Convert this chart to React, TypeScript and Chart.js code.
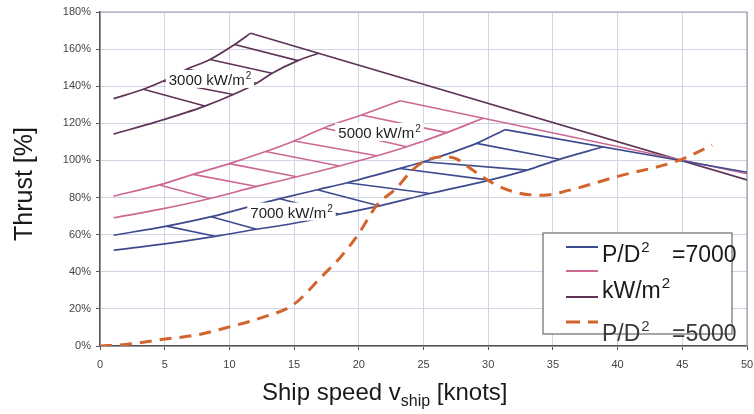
import React, { useEffect, useRef } from 'react';
import { Chart, registerables } from 'chart.js';

Chart.register(...registerables);

// ---- axis values ----
const xMin = 0;
const xMax = 50;
const xStep = 5;
const yMin = 0;
const yMax = 180;
const yStep = 20;

// ---- 3000 kW/m2 band (speed [knots], thrust [%]) ----
const band3000Upper: number[][] = [[1.05, 133.3], [3.35, 138.4], [4.9, 142.8], [6.7, 149.2], [8.5, 154.4], [10.4, 162.5], [11.65, 168.6]];
const band3000Lower: number[][] = [[1.05, 114.2], [4.4, 120.9], [8.1, 129.3], [10.3, 135.5], [12.1, 141.6], [13.3, 147.0], [15.3, 153.8], [16.9, 157.8]];
const band3000Top: number[][] = [[11.65, 168.6], [50, 89.5]];
const band3000Hatch: number[][] = [[3.35, 138.4, 8.1, 129.3], [4.9, 142.8, 10.3, 135.5], [6.7, 149.2, 12.1, 141.6], [8.5, 154.4, 13.3, 147.0], [10.4, 162.5, 15.3, 153.8]];

// ---- 5000 kW/m2 band ----
const band5000Upper: number[][] = [[1.05, 80.8], [4.6, 86.8], [7.2, 92.5], [10.0, 98.3], [12.8, 104.8], [15.0, 110.5], [17.3, 117.5], [20.2, 124.5], [23.2, 132.2]];
const band5000Lower: number[][] = [[1.05, 69.1], [4.6, 73.6], [8.5, 79.5], [12.1, 86.0], [15.2, 91.2], [18.5, 97.0], [21.4, 102.5], [23.7, 107.4], [26.8, 115.0], [29.6, 122.7]];
const band5000Top: number[][] = [[23.2, 132.2], [50, 92.8]];
const band5000Hatch: number[][] = [[4.6, 86.8, 8.5, 79.5], [7.2, 92.5, 12.1, 86.0], [10.0, 98.3, 15.2, 91.2], [12.8, 104.8, 18.5, 97.0], [15.0, 110.5, 21.4, 102.5], [17.3, 117.5, 23.7, 107.4], [20.2, 124.5, 26.8, 115.0]];

// ---- 7000 kW/m2 band ----
const band7000Upper: number[][] = [[1.05, 59.7], [5.15, 64.6], [8.6, 69.7], [12.9, 77.7], [13.9, 79.4], [16.8, 84.2], [19.1, 88.0], [23.2, 95.7], [25.0, 99.3], [29.1, 109.2], [31.3, 116.6]];
const band7000Lower: number[][] = [[1.05, 51.6], [5.0, 55.0], [8.9, 59.1], [12.1, 62.9], [14.9, 66.0], [18.5, 71.0], [21.6, 75.5], [25.5, 82.2], [30.1, 89.4], [33.0, 94.8], [35.5, 100.6], [38.9, 107.4]];
const band7000Top: number[][] = [[31.3, 116.6], [50, 93.6]];
const band7000Hatch: number[][] = [[5.15, 64.6, 8.9, 59.1], [8.6, 69.7, 12.1, 62.9], [13.9, 79.4, 18.5, 71.0], [16.8, 84.2, 21.6, 75.5], [19.1, 88.0, 25.5, 82.2], [23.2, 95.7, 30.1, 89.4], [25.0, 99.3, 33.0, 94.8], [29.1, 109.2, 35.5, 100.6]];

// ---- dashed thrust demand curve ----
const demandCurve: number[][] = [[0, 0], [2, 0.8], [4.9, 3.6], [7.5, 6.0], [10, 10.3], [12.5, 15.3], [14.95, 22.3], [17.1, 37.2], [18.6, 48], [20, 60.6], [21.4, 75.9], [22.9, 85], [24, 93.9], [25, 99.3], [26.5, 102], [27.5, 101], [28.8, 94.8], [30.65, 86.7], [32.5, 82.2], [34.3, 81.3], [36.3, 84], [39.9, 91.2], [44.8, 100.2], [47.3, 108.3]];

// ---- texts ----
const bandLabelValues = ['3000', '5000', '7000'];
const unitText = 'kW/m';
const supText = '2';
const legendTexts = ['P/D', '=7000', 'kW/m', 'P/D', '=5000'];
const yTitle = 'Thrust [%]';
const xTitleMain = 'Ship speed v';
const xTitleSub = 'ship';
const xTitleEnd = ' [knots]';

const NAVY = '#3d4b8e';
const PINK = '#cd6893';
const DARK = '#5e3457';
const ORANGE = '#d2652d';
const FONT = '"Liberation Sans", Arial, sans-serif';

const pts = (arr: number[][]) => arr.map(([x, y]) => ({ x, y }));
const segs = (arr: number[][]) =>
  arr.flatMap(([x1, y1, x2, y2]) => [{ x: x1, y: y1 }, { x: x2, y: y2 }, { x: x2, y: null as any }]);

const curve = (data: any[], color: string) => ({
  data,
  borderColor: color,
  borderWidth: 1.7,
  pointRadius: 0,
  cubicInterpolationMode: 'monotone' as const,
  fill: false,
});
const straight = (data: any[], color: string) => ({
  data,
  borderColor: color,
  borderWidth: 1.6,
  pointRadius: 0,
  tension: 0,
  spanGaps: false,
  fill: false,
});

// draws text with a raised "2", returns total width
function drawWithSup(ctx: any, main: string, x: number, y: number, size: number, supSize: number, rise: number, measureOnly = false) {
  ctx.font = `${size}px ${FONT}`;
  const w1 = ctx.measureText(main).width;
  ctx.font = `${supSize}px ${FONT}`;
  const w2 = ctx.measureText(supText).width;
  if (!measureOnly) {
    ctx.font = `${size}px ${FONT}`;
    ctx.fillText(main, x, y);
    ctx.font = `${supSize}px ${FONT}`;
    ctx.fillText(supText, x + w1 + 1, y - rise);
  }
  return w1 + 1 + w2;
}

const overlay = {
  id: 'overlay',
  beforeDatasetsDraw(chart: any) {
    const { ctx, chartArea: a } = chart;
    ctx.save();
    ctx.strokeStyle = '#9a9aa6';
    ctx.lineWidth = 1.2;
    ctx.beginPath();
    ctx.moveTo(a.left, a.top);
    ctx.lineTo(a.right, a.top);
    ctx.lineTo(a.right, a.bottom);
    ctx.stroke();
    ctx.restore();
  },
  afterDatasetsDraw(chart: any) {
    const { ctx, scales } = chart;
    const sx = scales.x;
    const sy = scales.y;
    const anchors = [[8.5, 143.4], [21.6, 114.8], [14.8, 71.9]];
    ctx.save();
    ctx.textAlign = 'left';
    ctx.textBaseline = 'alphabetic';
    bandLabelValues.forEach((v, i) => {
      const main = `${v} ${unitText}`;
      const px = sx.getPixelForValue(anchors[i][0]);
      const py = sy.getPixelForValue(anchors[i][1]);
      const w = drawWithSup(ctx, main, 0, 0, 15, 10, 6, true);
      ctx.fillStyle = '#ffffff';
      ctx.fillRect(px - w / 2 - 3, py - 10, w + 6, 18);
      ctx.fillStyle = '#1e1e1e';
      drawWithSup(ctx, main, px - w / 2, py + 5, 15, 10, 6);
    });
    ctx.restore();
  },
  afterDraw(chart: any) {
    const { ctx, chartArea: a } = chart;
    ctx.save();
    // axis titles
    ctx.fillStyle = '#1a1a1a';
    ctx.textBaseline = 'alphabetic';
    ctx.textAlign = 'left';
    ctx.font = `24px ${FONT}`;
    let x = 262;
    const base = 400;
    ctx.fillText(xTitleMain, x, base);
    x += ctx.measureText(xTitleMain).width;
    ctx.font = `16px ${FONT}`;
    ctx.fillText(xTitleSub, x, base + 6);
    x += ctx.measureText(xTitleSub).width;
    ctx.font = `24px ${FONT}`;
    ctx.fillText(xTitleEnd, x, base);

    ctx.save();
    ctx.translate(32, 184);
    ctx.rotate(-Math.PI / 2);
    ctx.font = `25px ${FONT}`;
    ctx.textAlign = 'center';
    ctx.fillText(yTitle, 0, 0);
    ctx.restore();

    // legend
    const bl = a.right - 204;
    const bt = a.bottom - 113;
    const bw = 189;
    const bh = 101;
    ctx.fillStyle = '#ffffff';
    ctx.fillRect(bl, bt, bw, bh);
    ctx.strokeStyle = '#6c6c6c';
    ctx.lineWidth = 1.2;
    ctx.strokeRect(bl, bt, bw, bh);
    const samples: [string, number, boolean][] = [[NAVY, 14, false], [PINK, 38, false], [DARK, 64, false], [ORANGE, 89, true]];
    samples.forEach(([c, dy, dashed]) => {
      ctx.beginPath();
      ctx.strokeStyle = c;
      ctx.lineWidth = dashed ? 3 : 2;
      ctx.setLineDash(dashed ? [14, 8] : []);
      ctx.moveTo(bl + 23, bt + dy);
      ctx.lineTo(bl + 55, bt + dy);
      ctx.stroke();
    });
    ctx.setLineDash([]);
    ctx.textAlign = 'left';
    ctx.fillStyle = '#1a1a1a';
    drawWithSup(ctx, legendTexts[0], bl + 59, bt + 29, 23, 15, 10);
    ctx.font = `23px ${FONT}`;
    ctx.fillText(legendTexts[1], bl + 129, bt + 29);
    drawWithSup(ctx, legendTexts[2], bl + 59, bt + 65, 23, 15, 10);
    ctx.fillStyle = '#3a3a3a';
    drawWithSup(ctx, legendTexts[3], bl + 59, bt + 108, 23, 15, 10);
    ctx.font = `23px ${FONT}`;
    ctx.fillText(legendTexts[4], bl + 129, bt + 108);
    ctx.restore();
  },
};

export default function App() {
  const ref = useRef<HTMLCanvasElement | null>(null);
  useEffect(() => {
    if (!ref.current) return;
    const chart = new Chart(ref.current, {
      type: 'line',
      data: {
        datasets: [
          {
            data: pts(demandCurve),
            borderColor: ORANGE,
            borderWidth: 3,
            borderDash: [12, 8],
            pointRadius: 0,
            cubicInterpolationMode: 'monotone',
            fill: false,
          } as any,
          curve(pts(band7000Upper), NAVY),
          curve(pts(band7000Lower), NAVY),
          straight(pts(band7000Top), NAVY),
          straight(segs(band7000Hatch), NAVY),
          curve(pts(band5000Upper), PINK),
          curve(pts(band5000Lower), PINK),
          straight(pts(band5000Top), PINK),
          straight(segs(band5000Hatch), PINK),
          curve(pts(band3000Upper), DARK),
          curve(pts(band3000Lower), DARK),
          straight(pts(band3000Top), DARK),
          straight(segs(band3000Hatch), DARK),
        ],
      },
      options: {
        animation: false,
        responsive: false,
        devicePixelRatio: 1,
        parsing: true,
        layout: { padding: { top: 12, right: 7, left: 0, bottom: 0 } },
        plugins: { legend: { display: false }, tooltip: { enabled: false }, title: { display: false } },
        scales: {
          x: {
            type: 'linear',
            min: xMin,
            max: xMax,
            ticks: { stepSize: xStep, color: '#444', font: { family: FONT, size: 11 }, padding: 8, maxRotation: 0 },
            grid: { color: '#d3d3e6', tickColor: '#555', tickLength: 4, lineWidth: 1 },
            border: { color: '#555', width: 1.5 },
            afterFit: (s: any) => { s.height = 68; s.paddingRight = 0; s.paddingLeft = 0; },
          },
          y: {
            type: 'linear',
            min: yMin,
            max: yMax,
            ticks: { stepSize: yStep, color: '#444', font: { family: FONT, size: 11 }, padding: 5, callback: (v: any) => `${v}%` },
            grid: { color: '#d3d3e6', tickColor: '#555', tickLength: 4, lineWidth: 1 },
            border: { color: '#555', width: 1.5 },
            afterFit: (s: any) => { s.width = 100; s.paddingTop = 0; s.paddingBottom = 0; },
          },
        },
      },
      plugins: [overlay],
    });
    return () => chart.destroy();
  }, []);
  return (
    <div style={{ position: 'absolute', left: 0, top: 0, width: 754, height: 414, background: '#fff' }}>
      <canvas ref={ref} width={754} height={414} style={{ width: 754, height: 414, display: 'block' }} />
    </div>
  );
}
